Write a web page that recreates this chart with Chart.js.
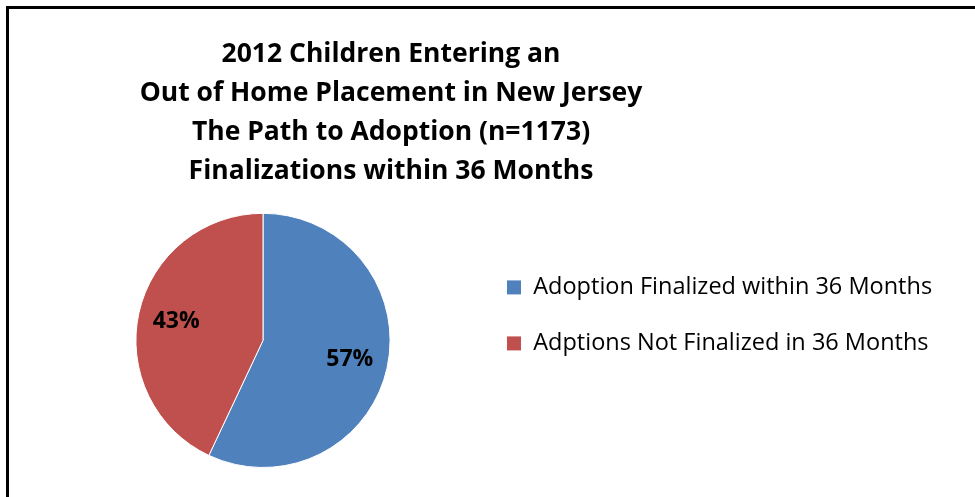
<!DOCTYPE html>
<html>
<head>
<meta charset="utf-8">
<script src="https://cdn.jsdelivr.net/npm/chart.js@4.4.1/dist/chart.umd.min.js"></script>
<style>
	html, body { margin: 0; padding: 0; background: #fff; overflow: hidden; }
	#wrap { position: relative; width: 975px; height: 497px; }
	#frame { position: absolute; left: 6px; top: 6px; width: 1200px; height: 800px; border: 3px solid #000; box-sizing: border-box; }
	#chart { position: absolute; left: 0; top: 0; }
</style>
</head>
<body>
<div id="wrap">
	<div id="frame"></div>
	<canvas id="chart" width="975" height="497"></canvas>
</div>
<script>
const titleLines = [
	'2012 Children Entering an',
	'Out of Home Placement in New Jersey',
	'The Path to Adoption (n=1173)',
	'Finalizations within 36 Months',
];
const categories = [
	'Adoption Finalized within 36 Months',
	'Adptions Not Finalized in 36 Months',
];
const percentages = [ 57, 43 ];
const sliceColors = [ '#4F81BD', '#C0504D' ];

const fontFamily = '"Open Sans", Lato, sans-serif';

// Chart.js caps a side legend at half the free width, which leaves the pie
// area ending at x = 474; the legend box is then widened so its text fits.
const boxShift = {
	id: 'boxShift',
	afterLayout( chart ) {
		chart.titleBlock.left = 0;
		chart.titleBlock.right = 782;
		const legend = chart.legend;
		legend.right = chart.width;
		legend.width = legend.right - legend.left;
		legend.top -= 25;
		legend.bottom -= 25;
	},
};

// percentage labels inside each slice
const sliceLabels = {
	id: 'sliceLabels',
	afterDatasetsDraw( chart ) {
		const ctx = chart.ctx;
		const meta = chart.getDatasetMeta( 0 );
		ctx.save();
		ctx.font = 'bold 23px ' + fontFamily;
		ctx.fillStyle = '#000';
		ctx.textAlign = 'center';
		ctx.textBaseline = 'middle';
		meta.data.forEach( ( arc, i ) => {
			const { x, y, startAngle, endAngle, outerRadius } = arc.getProps( [ 'x', 'y', 'startAngle', 'endAngle', 'outerRadius' ], true );
			const mid = ( startAngle + endAngle ) / 2;
			const r = outerRadius * 0.7;
			ctx.fillText( percentages[ i ] + '%', x + Math.cos( mid ) * r, y + Math.sin( mid ) * r );
		} );
		ctx.restore();
	},
};

new Chart( document.getElementById( 'chart' ).getContext( '2d' ), {
	type: 'pie',
	data: {
		labels: categories,
		datasets: [ {
			data: percentages,
			backgroundColor: sliceColors,
			borderColor: '#fff',
			borderWidth: 1,
			hoverOffset: 0,
		} ],
	},
	options: {
		responsive: false,
		animation: false,
		layout: {
			padding: { left: 52, right: 79, top: 0, bottom: 29 },
		},
		plugins: {
			title: {
				display: true,
				text: titleLines,
				color: '#000',
				font: { family: fontFamily, size: 26.5, weight: 'bold', lineHeight: 1.47 },
				padding: { top: 35, bottom: 22 },
			},
			legend: {
				position: 'right',
				fullSize: false,
				align: 'center',
				labels: {
					color: '#000',
					font: { family: fontFamily, size: 23.5 },
					boxWidth: 15,
					boxHeight: 15,
					padding: 32.5,
				},
			},
			tooltip: { enabled: false },
		},
	},
	plugins: [ boxShift, sliceLabels ],
} );
</script>
</body>
</html>
